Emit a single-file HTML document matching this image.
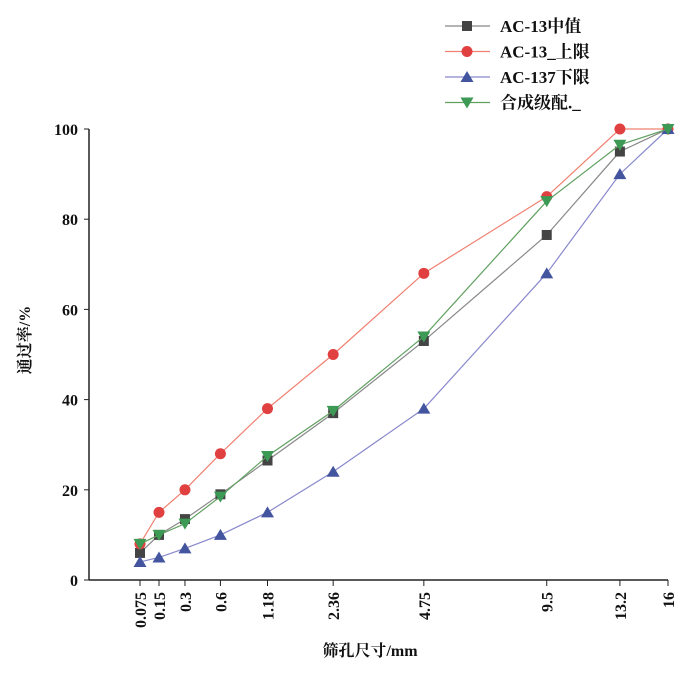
<!DOCTYPE html>
<html><head><meta charset="utf-8"><style>
body{margin:0;background:#fff}
svg text{font-family:"Liberation Serif","Noto Serif CJK SC",serif;fill:#111;font-weight:bold}
</style></head><body>
<svg width="700" height="684" id="c">
<g id="axes"></g><g id="series"></g><g id="legend"></g>
<text x="370" y="656" text-anchor="middle" font-size="16">筛孔尺寸/mm</text>
<text transform="translate(30,340) rotate(-90)" text-anchor="middle" font-size="16">通过率/%</text>
</svg>
<script>
const sieves=[0.075,0.15,0.3,0.6,1.18,2.36,4.75,9.5,13.2,16];
const sieveLabels=["0.075","0.15","0.3","0.6","1.18","2.36","4.75","9.5","13.2","16"];
const midValues=[6,10,13.5,19,26.5,37,53,76.5,95,100];
const upperValues=[8,15,20,28,38,50,68,85,100,100];
const lowerValues=[4,5,7,10,15,24,38,68,90,100];
const synthValues=[8,10,12.5,18.5,27.5,37.5,54,84,96.5,100];
const yTicks=[0,20,40,60,80,100];
const seriesNames=["AC-13中值","AC-13_上限","AC-137下限","合成级配._"];
const NS="http://www.w3.org/2000/svg";
const x0=140,x1=668,y0=580,y1=129;
const p=v=>Math.pow(v,0.45);
const X=v=>x0+(p(v)-p(0.075))/(p(16)-p(0.075))*(x1-x0);
const Y=v=>y0-v/100*(y0-y1);
function mk(t,a,par){const e=document.createElementNS(NS,t);for(const k in a)e.setAttribute(k,a[k]);par.appendChild(e);return e;}
const ax=document.getElementById('axes');
let l=mk('line',{x1:89,y1:y1,x2:89,y2:y0,stroke:'#222','stroke-width':1.5},ax);


l=mk('line',{x1:89,y1:y0,x2:x1,y2:y0,stroke:'#222','stroke-width':1.5},ax);


yTicks.forEach(v=>{mk('line',{x1:84,y1:Y(v),x2:89,y2:Y(v),stroke:'#222'},ax);
const t=mk('text',{x:78,y:Y(v)+6,'text-anchor':'end','font-size':16},ax);t.textContent=v;

});
sieves.forEach((s,i)=>{const x=X(s);mk('line',{x1:x,y1:y0,x2:x,y2:y0+6,stroke:'#222'},ax);
const t=mk('text',{transform:`translate(${x+6},${y0+12}) rotate(-90)`,'text-anchor':'end','font-size':16},ax);t.textContent=sieveLabels[i];

});
const sg=document.getElementById('series');
function marker(type,x,y,col,g){
 if(type==='sq')return mk('rect',{x:x-5,y:y-5,width:10,height:10,fill:col},g);
 if(type==='ci')return mk('circle',{cx:x,cy:y,r:5.5,fill:col},g);
 if(type==='up')return mk('polygon',{points:`${x},${y-6} ${x-6.5},${y+5} ${x+6.5},${y+5}`,fill:col},g);
 return mk('polygon',{points:`${x},${y+6} ${x-6.5},${y-5} ${x+6.5},${y-5}`,fill:col},g);
}
const defs=[[midValues,'#888','#444','sq'],[upperValues,'#f08070','#e04040','ci'],[lowerValues,'#8888cc','#4455a0','up'],[synthValues,'#60a060','#3d9a55','dn']];
const names=['series-mid','series-upper','series-lower','series-synth'];
defs.forEach((d,k)=>{const g=mk('g',{},sg);


mk('polyline',{points:d[0].map((v,i)=>X(sieves[i])+','+Y(v)).join(' '),fill:'none',stroke:d[1],'stroke-width':1.2},g);
d[0].forEach((v,i)=>{const m=marker(d[3],X(sieves[i]),Y(v),d[2],g);

});});
const lg=document.getElementById('legend');
defs.forEach((d,k)=>{const y=26+k*25.5;const g=mk('g',{},lg);


mk('line',{x1:445,y1:y,x2:490,y2:y,stroke:d[1],'stroke-width':1.2},g);
marker(d[3],467,y,d[2],g);
const t=mk('text',{x:500,y:y+6,'font-size':17},g);t.textContent=seriesNames[k];});
</script>
</body></html>
